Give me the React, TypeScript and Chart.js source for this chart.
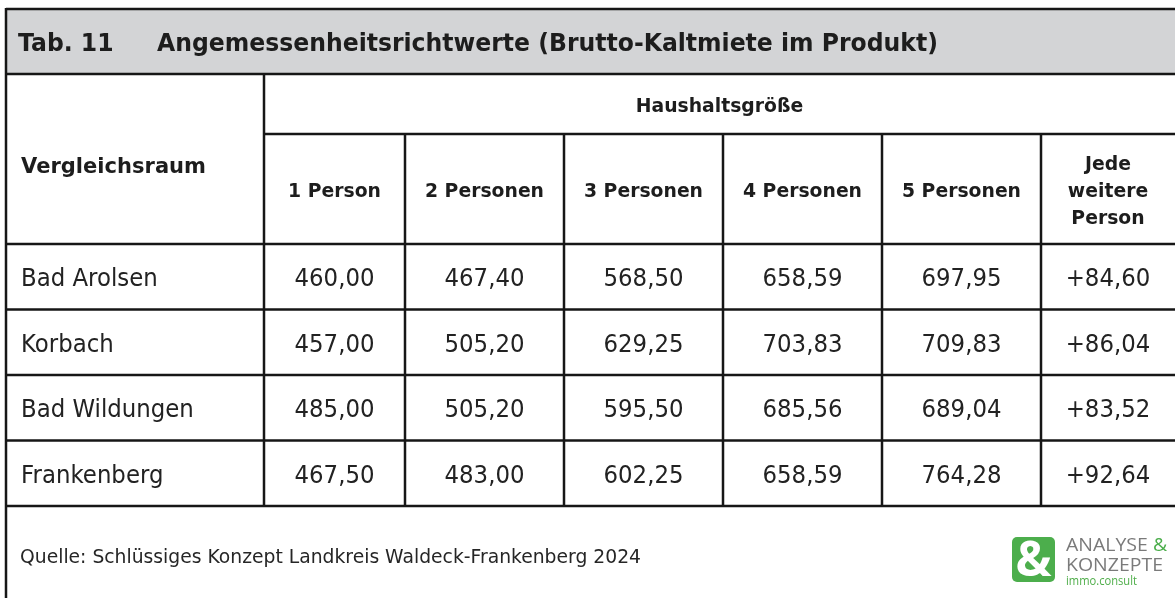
import React, { useEffect, useRef } from "react";
import { Chart, registerables } from "chart.js";

Chart.register(...registerables);

// ---- content / data ----
const TABLE_NO = "Tab. 11";
const TITLE = "Angemessenheitsrichtwerte (Brutto-Kaltmiete im Produkt)";
const ROW_HEADER = "Vergleichsraum";
const GROUP_HEADER = "Haushaltsgröße";
const columns = ["1 Person", "2 Personen", "3 Personen", "4 Personen", "5 Personen", "Jede weitere Person"];
const columnLines = [["1 Person"], ["2 Personen"], ["3 Personen"], ["4 Personen"], ["5 Personen"], ["Jede", "weitere", "Person"]];
const regions = ["Bad Arolsen", "Korbach", "Bad Wildungen", "Frankenberg"];
const person1 = [460.0, 457.0, 485.0, 467.5];
const person2 = [467.4, 505.2, 505.2, 483.0];
const person3 = [568.5, 629.25, 595.5, 602.25];
const person4 = [658.59, 703.83, 685.56, 658.59];
const person5 = [697.95, 709.83, 689.04, 764.28];
const extraPerson = [84.6, 86.04, 83.52, 92.64];
const SOURCE = "Quelle: Schlüssiges Konzept Landkreis Waldeck-Frankenberg 2024";

const series = [person1, person2, person3, person4, person5, extraPerson];

// ---- layout (not data) ----
const COL_WIDTHS = [141, 159, 159, 159, 159, 134];
const W = 1175;
const H = 598;

const fmt = (v: number, plus: boolean) => (plus ? "+" : "") + v.toFixed(2).replace(".", ",");

type Style = { font: string; color: string; ref: string; target: number; sx?: number };

const FONT = "'DejaVu Sans', Verdana, sans-serif";
const LOGO_FONT = "'Open Sans', 'Liberation Sans', sans-serif";
const styles: Record<string, Style> = {
  title: { font: `bold 24px ${FONT}`, color: "#1d1d1d", ref: TITLE, target: 781 },
  head: { font: `bold 20px ${FONT}`, color: "#1d1d1d", ref: "2 Personen", target: 119 },
  rowHead: { font: `bold 22px ${FONT}`, color: "#1d1d1d", ref: ROW_HEADER, target: 185 },
  body: { font: `25px ${FONT}`, color: "#222222", ref: "467,40", target: 80 },
  foot: { font: `20px ${FONT}`, color: "#262626", ref: SOURCE, target: 621 },
  logo: { font: `18px ${LOGO_FONT}`, color: "#7a7a7a", ref: "KONZEPTE", target: 97 },
  logoSmall: { font: `13px ${LOGO_FONT}`, color: "#4fae4a", ref: "immo.consult", target: 71 },
};

function prep(ctx: CanvasRenderingContext2D) {
  Object.values(styles).forEach((s) => {
    ctx.font = s.font;
    s.sx = s.target / ctx.measureText(s.ref).width;
  });
}

function txt(ctx: CanvasRenderingContext2D, s: string, x: number, y: number, st: Style, align: "left" | "center" = "left", color?: string) {
  ctx.save();
  ctx.font = st.font;
  const sx = st.sx || 1;
  const w = ctx.measureText(s).width * sx;
  const left = align === "center" ? x - w / 2 : x;
  ctx.translate(left, y);
  ctx.scale(sx, 1);
  ctx.textAlign = "left";
  ctx.textBaseline = "alphabetic";
  ctx.fillStyle = color || st.color;
  ctx.fillText(s, 0, 0);
  ctx.restore();
  return w;
}

function line(ctx: CanvasRenderingContext2D, x1: number, y1: number, x2: number, y2: number) {
  ctx.beginPath();
  ctx.moveTo(x1, y1);
  ctx.lineTo(x2, y2);
  ctx.stroke();
}

const tablePlugin = {
  id: "tablePlugin",
  beforeDraw(chart: any) {
    const { ctx } = chart;
    ctx.save();
    ctx.fillStyle = "#ffffff";
    ctx.fillRect(0, 0, chart.width, chart.height);
    ctx.fillStyle = "#d3d4d6";
    ctx.fillRect(6, 9, chart.width - 6, 65);
    ctx.restore();
  },
  afterDraw(chart: any) {
    const { ctx, chartArea: a, scales } = chart;
    const xs = scales.x;
    const ys = scales.y;
    prep(ctx);
    const edges: number[] = [0];
    COL_WIDTHS.forEach((w, i) => edges.push(edges[i] + w));
    const colX = edges.map((e) => xs.getPixelForValue(e));
    const half = (ys.getPixelForValue(1) - ys.getPixelForValue(0)) / 2;
    const rowEdges = regions.map((_, i) => ys.getPixelForValue(i) - half);
    rowEdges.push(ys.getPixelForValue(regions.length - 1) + half);

    const headTop = 9;
    const headBottom = 74;
    const groupLine = 134;
    const left = 6;
    const right = chart.width;

    ctx.save();
    ctx.strokeStyle = "#161616";
    ctx.lineWidth = 2.5;
    line(ctx, left, headTop, right, headTop);
    line(ctx, left, headBottom, right, headBottom);
    line(ctx, colX[0], groupLine, right, groupLine);
    rowEdges.forEach((y) => line(ctx, left, y, right, y));
    line(ctx, left, headTop - 1, left, chart.height);
    line(ctx, colX[0], headBottom, colX[0], rowEdges[rowEdges.length - 1]);
    for (let i = 1; i < colX.length - 1; i++) line(ctx, colX[i], groupLine, colX[i], rowEdges[rowEdges.length - 1]);
    ctx.restore();

    // title
    txt(ctx, TABLE_NO, 18, 51, styles.title);
    txt(ctx, TITLE, 157, 51, styles.title);

    // headers
    txt(ctx, ROW_HEADER, 21, 173, styles.rowHead);
    txt(ctx, GROUP_HEADER, (colX[0] + right) / 2, 112, styles.head, "center");
    const hdrCenter = (groupLine + a.top) / 2;
    columnLines.forEach((lines, c) => {
      const cx = (colX[c] + colX[c + 1]) / 2;
      const n = lines.length;
      lines.forEach((l, k) => {
        const by = hdrCenter + 7.5 + (k - (n - 1) / 2) * 27;
        txt(ctx, l, cx, by, styles.head, "center");
      });
    });

    // region names and cells
    regions.forEach((r, i) => {
      const cy = ys.getPixelForValue(i);
      txt(ctx, r, 21, cy + 9.5, styles.body);
    });
    series.forEach((vals, d) => {
      const meta = chart.getDatasetMeta(d);
      meta.data.forEach((el: any, i: number) => {
        txt(ctx, fmt(vals[i], d === series.length - 1), el.x, el.y + 9.5, styles.body, "center");
      });
    });

    // footer
    txt(ctx, SOURCE, 20, 563, styles.foot);

    // logo
    ctx.save();
    ctx.fillStyle = "#4cae4c";
    const lx = 1012, ly = 537, lw = 43, lh = 45, rr = 5;
    ctx.beginPath();
    ctx.moveTo(lx + rr, ly);
    ctx.arcTo(lx + lw, ly, lx + lw, ly + lh, rr);
    ctx.arcTo(lx + lw, ly + lh, lx, ly + lh, rr);
    ctx.arcTo(lx, ly + lh, lx, ly, rr);
    ctx.arcTo(lx, ly, lx + lw, ly, rr);
    ctx.closePath();
    ctx.fill();
    ctx.fillStyle = "#ffffff";
    ctx.font = `bold 48px ${LOGO_FONT}`;
    ctx.textAlign = "center";
    ctx.textBaseline = "alphabetic";
    ctx.fillText("&", lx + lw / 2, ly + lh - 6);
    ctx.restore();
    const wA = txt(ctx, "ANALYSE", 1066, 551, styles.logo);
    txt(ctx, "&", 1066 + wA + 5, 551, styles.logo, "left", "#4cae4c");
    txt(ctx, "KONZEPTE", 1066, 571, styles.logo);
    txt(ctx, "immo.consult", 1066, 585, styles.logoSmall);
  },
};

export default function App() {
  const ref = useRef<HTMLCanvasElement | null>(null);
  useEffect(() => {
    document.body.style.margin = "0";
    document.body.style.overflow = "hidden";
    const canvas = ref.current;
    if (!canvas) return;
    const edges: number[] = [0];
    COL_WIDTHS.forEach((w, i) => edges.push(edges[i] + w));
    const chart = new Chart(canvas, {
      type: "scatter",
      data: {
        labels: regions,
        datasets: series.map((vals, c) => ({
          label: columns[c],
          data: vals.map((v, i) => ({ x: (edges[c] + edges[c + 1]) / 2, y: regions[i] })) as any,
          pointRadius: 0,
          pointHoverRadius: 0,
          showLine: false,
        })),
      },
      options: {
        animation: false,
        responsive: false,
        events: [],
        layout: { padding: { left: 264, right: 0, top: 244, bottom: 92 } },
        plugins: { legend: { display: false }, tooltip: { enabled: false }, title: { display: false } },
        scales: {
          x: { type: "linear", min: 0, max: edges[edges.length - 1], display: false },
          y: { type: "category", labels: regions, offset: true, display: false },
        },
      },
      plugins: [tablePlugin],
    });
    return () => chart.destroy();
  }, []);
  return (
    <div style={{ position: "fixed", left: 0, top: 0, width: W, height: H, overflow: "hidden", background: "#fff" }}>
      <canvas ref={ref} width={W} height={H} style={{ display: "block" }} />
    </div>
  );
}
